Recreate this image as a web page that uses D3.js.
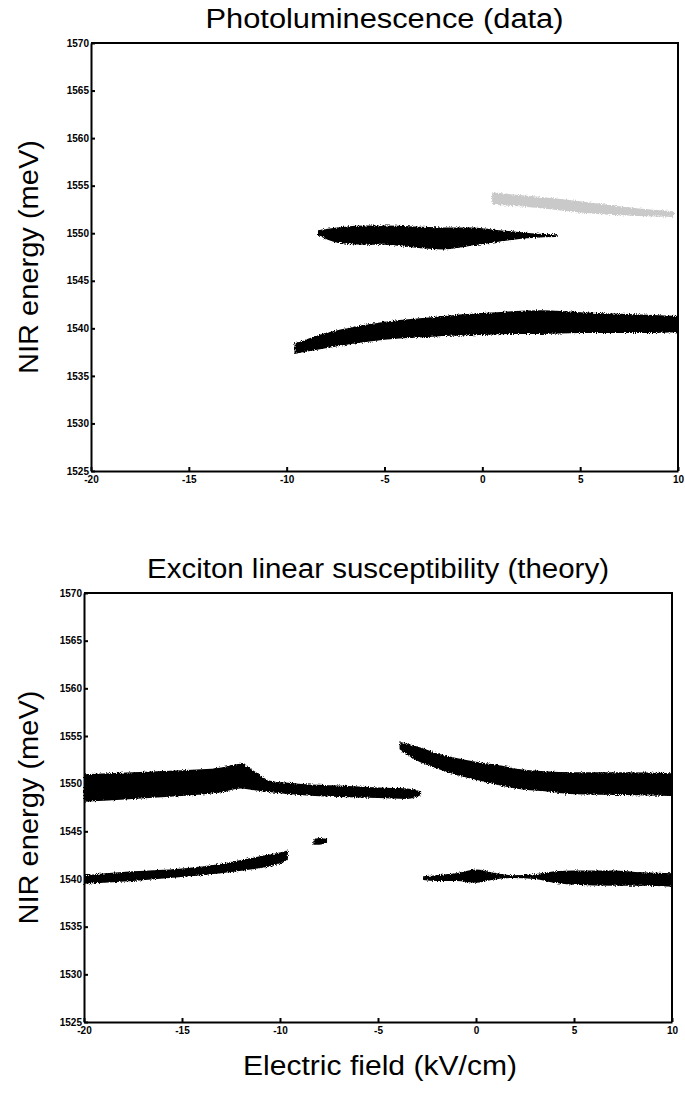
<!DOCTYPE html>
<html>
<head>
<meta charset="utf-8">
<script src="https://cdn.jsdelivr.net/npm/d3@7"></script>
<style>
  body { margin: 0; background: #fff; }
  svg { font-family: "Liberation Sans", Arial, sans-serif; }
  .axis path, .axis line { stroke: #000; stroke-width: 2; }
  .axis text { font-size: 10px; font-weight: bold; fill: #000; }
</style>
</head>
<body>
<svg width="685" height="1095"></svg>
<script>
// axis ticks
var fieldTicks = [-20, -15, -10, -5, 0, 5, 10];
var energyTicks = [1525, 1530, 1535, 1540, 1545, 1550, 1555, 1560, 1565, 1570];

// photoluminescence (data) - lower bright line
var plLowField = [-9.6, -8, -6.5, -5, -3.5, -2, 0, 1.5, 3, 5, 7.5, 10];
var plLowLo    = [1537.3, 1537.9, 1538.4, 1538.8, 1539.0, 1539.2, 1539.3, 1539.4, 1539.4, 1539.5, 1539.5, 1539.6];
var plLowHi    = [1538.4, 1539.5, 1540.2, 1540.7, 1541.0, 1541.3, 1541.6, 1541.8, 1541.9, 1541.7, 1541.5, 1541.3];

// photoluminescence - upper line near 1550
var plUpField = [-8.4, -7.4, -6, -5, -3.5, -2, -0.5, 0.5, 1.5, 2.5, 3.8];
var plUpLo    = [1549.8, 1549.0, 1548.8, 1548.8, 1548.5, 1548.3, 1548.7, 1549.0, 1549.3, 1549.5, 1549.6];
var plUpHi    = [1550.3, 1550.6, 1550.8, 1550.8, 1550.7, 1550.6, 1550.6, 1550.4, 1550.2, 1550.0, 1549.9];

// photoluminescence - faint line near 1553
var plFaintField = [0.5, 2, 4, 6, 8, 9.8];
var plFaintLo    = [1553.0, 1552.8, 1552.4, 1552.0, 1551.8, 1551.7];
var plFaintHi    = [1554.3, 1554.0, 1553.6, 1553.1, 1552.6, 1552.3];

// susceptibility (theory) - upper branch, left part
var thUpLField = [-20, -17.5, -15, -13, -12, -11.3, -10.5, -9, -7, -5, -3.5, -2.8];
var thUpLLo    = [1548.1, 1548.4, 1548.7, 1549.1, 1549.5, 1549.3, 1549.1, 1548.8, 1548.6, 1548.5, 1548.4, 1548.8];
var thUpLHi    = [1551.0, 1551.2, 1551.4, 1551.7, 1552.1, 1551.3, 1550.3, 1550.0, 1549.8, 1549.6, 1549.5, 1549.2];

// susceptibility - upper branch, right part
var thUpRField = [-3.9, -3, -2, -1, 0, 1, 2, 3.5, 5, 7.5, 10];
var thUpRLo    = [1553.6, 1552.4, 1551.6, 1550.9, 1550.4, 1549.9, 1549.5, 1549.2, 1548.9, 1548.8, 1548.7];
var thUpRHi    = [1554.4, 1553.9, 1553.2, 1552.7, 1552.3, 1552.0, 1551.6, 1551.3, 1551.2, 1551.2, 1551.1];

// susceptibility - lower branch, left part
var thLowLField = [-20, -17.5, -15, -13, -11.5, -10.2, -9.6];
var thLowLLo    = [1539.5, 1539.8, 1540.2, 1540.6, 1541.0, 1541.5, 1542.0];
var thLowLHi    = [1540.4, 1540.8, 1541.1, 1541.6, 1542.2, 1542.7, 1543.0];

// susceptibility - small isolated spot near -8
var thSpotField = [-8.3, -8.0, -7.6];
var thSpotLo    = [1543.6, 1543.6, 1543.8];
var thSpotHi    = [1544.1, 1544.3, 1544.2];

// susceptibility - lower branch, right part
var thLowRField = [-2.7, -2, -1, 0, 0.8, 1.8, 3, 4, 5, 7, 8.5, 10];
var thLowRLo    = [1539.9, 1539.8, 1539.8, 1539.6, 1539.9, 1540.1, 1540.0, 1539.6, 1539.4, 1539.3, 1539.3, 1539.2];
var thLowRHi    = [1540.3, 1540.4, 1540.6, 1541.0, 1540.7, 1540.4, 1540.5, 1540.8, 1540.9, 1540.9, 1540.7, 1540.6];

function zipBand(f, lo, hi) {
  return f.map(function(d, i) { return {f: d, lo: lo[i], hi: hi[i]}; });
}

var svg = d3.select("svg");

// grainy edges, like the scanned plot
var filt = svg.append("defs").append("filter")
    .attr("id", "grain")
    .attr("x", "-5%").attr("y", "-50%")
    .attr("width", "110%").attr("height", "200%");
filt.append("feTurbulence")
    .attr("type", "fractalNoise")
    .attr("baseFrequency", 0.9)
    .attr("numOctaves", 2)
    .attr("seed", 3)
    .attr("result", "noise");
filt.append("feDisplacementMap")
    .attr("in", "SourceGraphic")
    .attr("in2", "noise")
    .attr("scale", 4)
    .attr("xChannelSelector", "R")
    .attr("yChannelSelector", "G");

var tickFmt = function(d) { return String(d); };

function panel(box, title, bands) {
  var x = d3.scaleLinear().domain([-20, 10]).range([box.left, box.right]);
  var y = d3.scaleLinear().domain([1525, 1570]).range([box.bottom, box.top]);

  var area = d3.area()
      .curve(d3.curveMonotoneX)
      .x(function(d) { return x(d.f); })
      .y0(function(d) { return y(d.lo); })
      .y1(function(d) { return y(d.hi); });

  bands.forEach(function(b) {
    svg.append("path")
        .datum(zipBand(b.f, b.lo, b.hi))
        .attr("d", area)
        .attr("fill", b.color || "#000")
        .attr("fill-opacity", b.opacity || 1)
        .attr("filter", "url(#grain)");
  });

  svg.append("g")
      .attr("class", "axis")
      .attr("transform", "translate(0," + box.bottom + ")")
      .call(d3.axisBottom(x).tickValues(fieldTicks).tickFormat(tickFmt)
        .tickSize(-4).tickPadding(5).tickSizeOuter(0));

  svg.append("g")
      .attr("class", "axis")
      .attr("transform", "translate(" + box.left + ",0)")
      .call(d3.axisLeft(y).tickValues(energyTicks).tickFormat(tickFmt)
        .tickSize(-4).tickPadding(2).tickSizeOuter(0));

  // top and right frame lines
  svg.append("path")
      .attr("d", "M" + box.left + "," + box.top + "H" + box.right + "V" + box.bottom)
      .attr("fill", "none")
      .attr("stroke", "#000")
      .attr("stroke-width", 2);

  svg.append("text")
      .attr("x", (box.left + box.right) / 2)
      .attr("y", box.top - 15)
      .attr("text-anchor", "middle")
      .attr("textLength", title.length > 30 ? 462 : 358)
      .attr("lengthAdjust", "spacingAndGlyphs")
      .style("font-size", "27px")
      .text(title);

  svg.append("text")
      .attr("transform", "translate(38," + (box.top + box.bottom) / 2 + ") rotate(-90)")
      .attr("text-anchor", "middle")
      .attr("textLength", 234)
      .attr("lengthAdjust", "spacingAndGlyphs")
      .style("font-size", "27px")
      .text("NIR energy (meV)");

  return x;
}

panel({left: 91, right: 678, top: 43, bottom: 471},
  "Photoluminescence (data)",
  [
    {f: plFaintField, lo: plFaintLo, hi: plFaintHi, color: "#888", opacity: 0.45},
    {f: plUpField, lo: plUpLo, hi: plUpHi},
    {f: plLowField, lo: plLowLo, hi: plLowHi}
  ]);

panel({left: 84, right: 672, top: 593, bottom: 1022},
  "Exciton linear susceptibility (theory)",
  [
    {f: thUpLField, lo: thUpLLo, hi: thUpLHi},
    {f: thUpRField, lo: thUpRLo, hi: thUpRHi},
    {f: thLowLField, lo: thLowLLo, hi: thLowLHi},
    {f: thSpotField, lo: thSpotLo, hi: thSpotHi},
    {f: thLowRField, lo: thLowRLo, hi: thLowRHi}
  ]);

svg.append("text")
    .attr("x", 380)
    .attr("y", 1075)
    .attr("text-anchor", "middle")
    .attr("textLength", 274)
    .attr("lengthAdjust", "spacingAndGlyphs")
    .style("font-size", "27px")
    .text("Electric field (kV/cm)");
</script>
</body>
</html>
